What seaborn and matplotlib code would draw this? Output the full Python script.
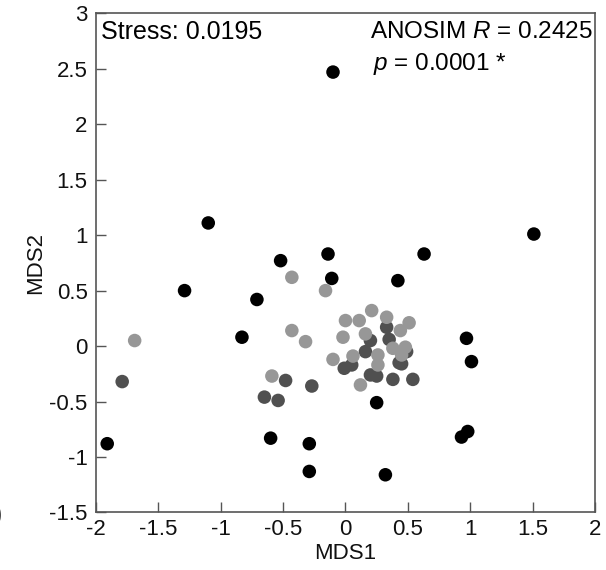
import matplotlib
matplotlib.use("Agg")
import matplotlib.pyplot as plt
import numpy as np
import pandas as pd
import seaborn as sns

# NMDS site scores, one array pair per group
group_names = ["Group B", "Group C", "Group A"]

b_x = [-1.79, -0.48, -0.65, -0.54, -0.27, 0.33, 0.20, 0.35, 0.16, 0.49,
       0.05, -0.01, 0.43, 0.20, 0.25, 0.38, 0.54, 0.45]
b_y = [-0.32, -0.31, -0.46, -0.49, -0.36, 0.17, 0.05, 0.06, -0.05, -0.05,
       -0.17, -0.20, -0.15, -0.26, -0.27, -0.30, -0.30, -0.16]

c_x = [-1.69, -0.43, -0.43, -0.59, -0.32, -0.16, 0.21, 0.33, 0.00, 0.11,
       0.51, 0.44, -0.02, 0.16, -0.10, 0.38, 0.48, 0.45, 0.06, 0.26,
       0.26, 0.12]
c_y = [0.05, 0.62, 0.14, -0.27, 0.04, 0.50, 0.32, 0.26, 0.23, 0.23,
       0.21, 0.14, 0.08, 0.11, -0.12, -0.02, -0.01, -0.08, -0.09, -0.08,
       -0.17, -0.35]

a_x = [-0.10, -1.10, -1.29, -0.52, -0.71, -0.83, -0.14, -0.11, 0.63, 0.42,
       1.51, 0.97, 1.01, 0.93, 0.98, 0.25, -1.91, -0.60, -0.29, -0.29,
       0.32]
a_y = [2.47, 1.11, 0.50, 0.77, 0.42, 0.08, 0.83, 0.61, 0.83, 0.59,
       1.01, 0.07, -0.14, -0.82, -0.77, -0.51, -0.88, -0.83, -0.88, -1.13,
       -1.16]

group_colors = ["#505050", "#979797", "#000000"]

x_ticks = [-2, -1.5, -1, -0.5, 0, 0.5, 1, 1.5, 2]
x_tick_labels = ["-2", "-1.5", "-1", "-0.5", "0", "0.5", "1", "1.5", "2"]
y_ticks = [-1.5, -1, -0.5, 0, 0.5, 1, 1.5, 2, 2.5, 3]
y_tick_labels = ["-1.5", "-1", "-0.5", "0", "0.5", "1", "1.5", "2", "2.5", "3"]

stress_text = "Stress: 0.0195"
anosim_r = "ANOSIM $R$ = 0.2425"
anosim_p = "$p$ = 0.0001 *"

df = pd.concat([
    pd.DataFrame({"MDS1": xs, "MDS2": ys, "group": g})
    for g, xs, ys in zip(group_names, [b_x, c_x, a_x], [b_y, c_y, a_y])
], ignore_index=True)

sns.set_style("white")
plt.rcParams["font.family"] = ["Liberation Sans", "DejaVu Sans"]
plt.rcParams["mathtext.fontset"] = "custom"
plt.rcParams["mathtext.rm"] = "Liberation Sans"
plt.rcParams["mathtext.it"] = "Liberation Sans:italic"

fig = plt.figure(figsize=(6.06, 5.70), dpi=100)
ax = fig.add_axes([0.1584, 0.1009, 0.8234, 0.8758])

sns.scatterplot(
    data=df, x="MDS1", y="MDS2", hue="group",
    hue_order=group_names, palette=group_colors,
    s=95, linewidth=0, edgecolor="none", alpha=1.0,
    legend=False, ax=ax,
)

ax.set_xlim(-2, 2)
ax.set_ylim(-1.5, 3)
ax.set_xticks(x_ticks)
ax.set_xticklabels(x_tick_labels)
ax.set_yticks(y_ticks)
ax.set_yticklabels(y_tick_labels)
ax.tick_params(axis="both", direction="in", length=7, width=1,
               color="#555555", labelsize=16, labelcolor="#111111",
               bottom=True, left=True, top=False, right=False)
ax.tick_params(axis="x", pad=5)
ax.tick_params(axis="y", pad=6)

for side in ["top", "right", "bottom", "left"]:
    ax.spines[side].set_visible(True)
    ax.spines[side].set_color("#555555")
    ax.spines[side].set_linewidth(1.2)

ax.set_xlabel("MDS1", fontsize=16, color="#111111", labelpad=2)
ax.set_ylabel("MDS2", fontsize=16, color="#111111", labelpad=2)

ax.text(0.011, 0.962, stress_text, transform=ax.transAxes,
        fontsize=18, ha="left", va="center", color="#000000")
ax.text(0.996, 0.962, anosim_r, transform=ax.transAxes,
        fontsize=17.5, ha="right", va="center", color="#000000")
ax.text(0.555, 0.899, anosim_p, transform=ax.transAxes,
        fontsize=17.5, ha="left", va="center", color="#000000")

# panel tag, mostly beyond the left edge of the figure
fig.text(-0.011, 0.097, ")", fontsize=18, ha="left", va="center",
         color="#333333")

fig.savefig("out.png", dpi=100)
